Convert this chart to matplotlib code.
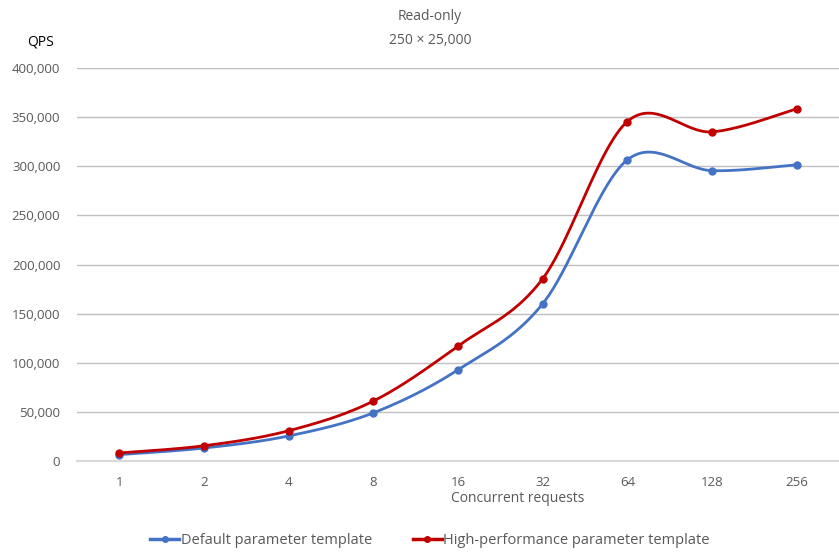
import numpy as np
import matplotlib
matplotlib.use("Agg")
import matplotlib.pyplot as plt
from matplotlib.lines import Line2D
from matplotlib.ticker import FuncFormatter

plt.rcParams['font.family'] = ['Open Sans', 'DejaVu Sans']

categories = ["1", "2", "4", "8", "16", "32", "64", "128", "256"]
default_qps = [6500, 13200, 25500, 49000, 92800, 160000, 306500, 295500, 301500]
high_perf_qps = [8200, 15500, 30800, 61000, 117000, 185500, 345500, 335000, 358500]
series_names = ["Default parameter template", "High-performance parameter template"]

BLUE = "#4472C4"
RED = "#C00000"
GRAY_TEXT = "#595959"


def smooth(xs, ys, n=40):
    """Catmull-Rom style Bezier smoothing through every point."""
    xs = np.asarray(xs, float)
    ys = np.asarray(ys, float)
    P = np.column_stack([xs, ys])
    Pext = np.vstack([P[0], P, P[-1]])
    out = []
    t = np.linspace(0, 1, n)[:, None]
    for i in range(len(P) - 1):
        p0, p1, p2, p3 = Pext[i], Pext[i + 1], Pext[i + 2], Pext[i + 3]
        c1 = p1 + (p2 - p0) / 6.0
        c2 = p2 - (p3 - p1) / 6.0
        seg = ((1 - t) ** 3) * p1 + 3 * ((1 - t) ** 2) * t * c1 + 3 * (1 - t) * t ** 2 * c2 + t ** 3 * p2
        out.append(seg if i == 0 else seg[1:])
    out = np.vstack(out)
    return out[:, 0], out[:, 1]


fig = plt.figure(figsize=(8.39, 5.57), dpi=100)
W, H = 839, 557
ax = fig.add_axes([77 / W, 1 - 461 / H, (839 - 77) / W, (461 - 68) / H])

x = np.arange(len(categories))
for vals, color in [(default_qps, BLUE), (high_perf_qps, RED)]:
    sx, sy = smooth(x, vals)
    ax.plot(sx, sy, color=color, lw=2.0, solid_capstyle='round', zorder=3)
    ax.plot(x, vals, 'o', color=color, ms=5, zorder=4)

ax.set_xlim(-0.5, len(categories) - 0.5)
ax.set_ylim(0, 400000)
ax.set_yticks(np.arange(0, 400001, 50000))
ax.yaxis.set_major_formatter(FuncFormatter(lambda v, p: f"{int(v):,}"))
ax.set_xticks(x)
ax.set_xticklabels(categories)
ax.grid(axis='y', color='#BFBFBF', lw=1.0, zorder=0)
ax.set_axisbelow(True)
for s in ['top', 'right', 'left']:
    ax.spines[s].set_visible(False)
ax.spines['bottom'].set_color('#D9D9D9')
ax.spines['bottom'].set_linewidth(1.5)
ax.tick_params(axis='both', length=0, labelsize=9.5, labelcolor=GRAY_TEXT)
ax.tick_params(axis='x', pad=10.5)
ax.tick_params(axis='y', pad=12)

fig.text(430 / W, 1 - 17 / H, "Read-only", ha='center', va='center', fontsize=10, color=GRAY_TEXT)
fig.text(430 / W, 1 - 41 / H, "250 × 25,000", ha='center', va='center', fontsize=10, color=GRAY_TEXT)
fig.text(40 / W, 1 - 42 / H, "QPS", ha='center', va='center', fontsize=10, color='black')
fig.text(518 / W, 1 - 499 / H, "Concurrent requests", ha='center', va='center', fontsize=10, color=GRAY_TEXT)

handles = [Line2D([0], [0], color=BLUE, lw=2.5, marker='o', ms=4),
           Line2D([0], [0], color=RED, lw=2.5, marker='o', ms=4)]
fig.legend(handles, series_names, loc='center', bbox_to_anchor=(430 / W, 1 - 541 / H),
           ncol=2, frameon=False, fontsize=10.5, handlelength=2.0, handletextpad=0.1,
           columnspacing=2.8, labelcolor=GRAY_TEXT)

fig.savefig("out.png", dpi=100)
